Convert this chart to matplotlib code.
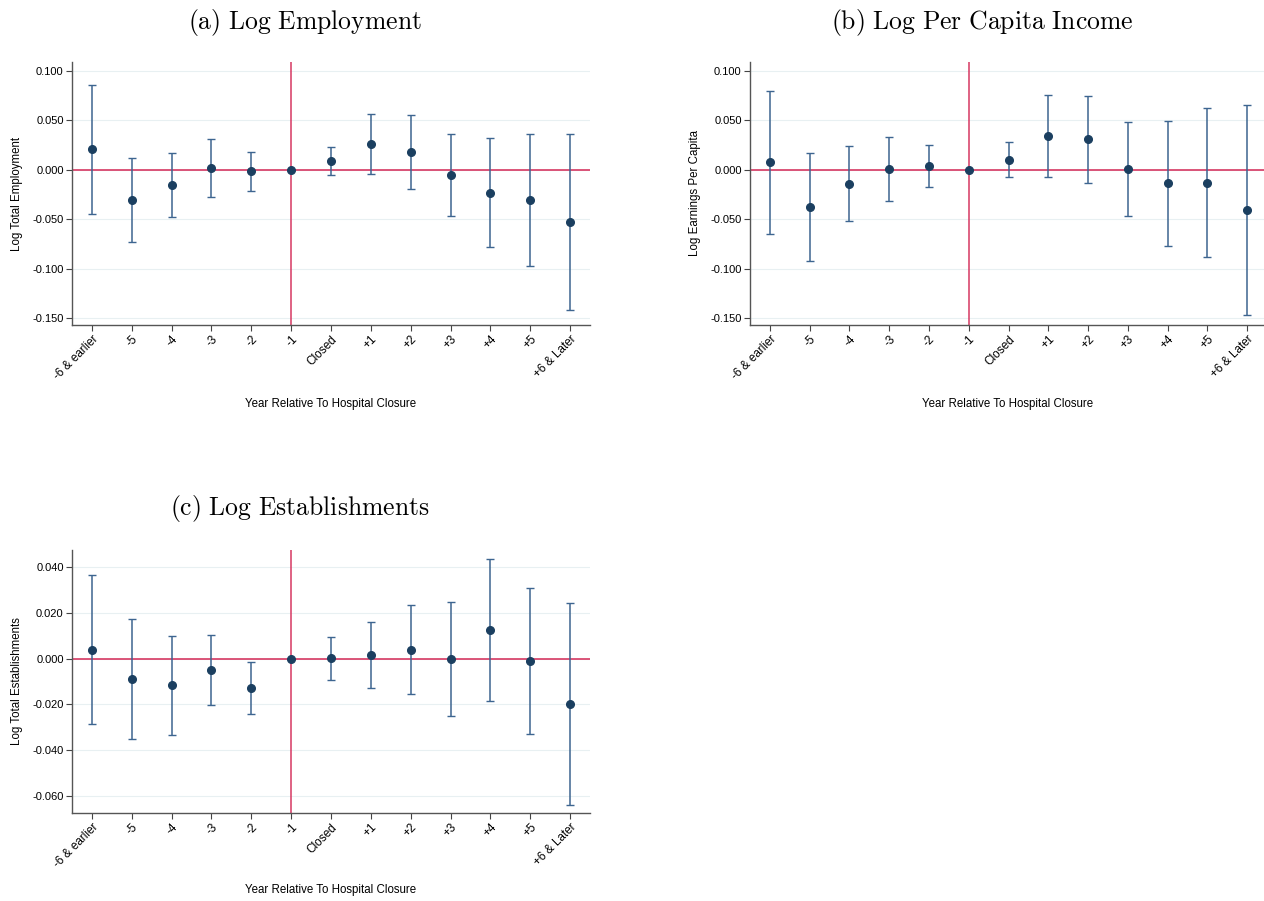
import matplotlib
matplotlib.use("Agg")
import matplotlib.pyplot as plt
import numpy as np

plt.rcParams['font.family'] = ['Liberation Sans', 'DejaVu Sans']
plt.rcParams['mathtext.fontset'] = 'cm'

labels = ['-6 & earlier', '-5', '-4', '-3', '-2', '-1', 'Closed',
          '+1', '+2', '+3', '+4', '+5', '+6 & Later']

# (a) log employment
emp_est = [0.0209, -0.0307, -0.0155, 0.0017, -0.0017, 0.0, 0.0091,
           0.0256, 0.0179, -0.0054, -0.0233, -0.0307, -0.0532]
emp_hi = [0.0862, 0.0115, 0.0169, 0.0313, 0.0182, 0.0, 0.0233,
          0.0563, 0.0556, 0.0357, 0.0324, 0.0361, 0.0361]
emp_lo = [-0.0445, -0.0728, -0.0482, -0.0276, -0.0212, 0.0, -0.0051,
          -0.0047, -0.0195, -0.0465, -0.0785, -0.0971, -0.1422]

# (b) log per capita income
inc_est = [0.0074, -0.0381, -0.0142, 0.0007, 0.0037, 0.0, 0.0101,
           0.0340, 0.0307, 0.0010, -0.0138, -0.0131, -0.0411]
inc_hi = [0.0795, 0.0165, 0.0236, 0.0334, 0.0249, 0.0, 0.0276,
          0.0752, 0.0745, 0.0482, 0.0495, 0.0627, 0.0654]
inc_lo = [-0.0647, -0.0927, -0.0516, -0.0320, -0.0175, 0.0, -0.0078,
          -0.0071, -0.0131, -0.0465, -0.0768, -0.0886, -0.1473]

# (c) log establishments
est_est = [0.0038, -0.0088, -0.0117, -0.0050, -0.0130, 0.0, 0.0001,
           0.0018, 0.0039, -0.0001, 0.0126, -0.0010, -0.0199]
est_hi = [0.0365, 0.0175, 0.0101, 0.0104, -0.0016, 0.0, 0.0096,
          0.0162, 0.0234, 0.0247, 0.0438, 0.0310, 0.0242]
est_lo = [-0.0286, -0.0350, -0.0334, -0.0201, -0.0241, 0.0, -0.0092,
          -0.0130, -0.0153, -0.0251, -0.0187, -0.0331, -0.0641]

W, H = 1264, 901
fig = plt.figure(figsize=(W / 100, H / 100), dpi=100)


def box(l, t, r, b):
    return [l / W, 1 - b / H, (r - l) / W, (b - t) / H]


def panel(rect, est, lo, hi, ylab, yticks, ylim):
    ax = fig.add_axes(rect)
    x = np.arange(len(labels))
    est = np.array(est)
    lo = np.array(lo)
    hi = np.array(hi)
    for t in yticks:
        ax.axhline(t, color='#e8f0f2', lw=0.8, zorder=0)
    ax.axhline(0, color='#d63862', lw=1.2, zorder=1)
    ax.axvline(5, color='#d63862', lw=1.1, zorder=1)
    ax.errorbar(x, est, yerr=[est - lo, hi - est], fmt='none',
                ecolor='#3d6590', elinewidth=1.1, capsize=2.8,
                capthick=1.0, zorder=2)
    ax.plot(x, est, 'o', color='#1b3f60', ms=5.5, zorder=3)
    ax.set_xlim(-0.5, 12.5)
    ax.set_ylim(*ylim)
    ax.set_yticks(yticks)
    ax.set_yticklabels(['%.3f' % t for t in yticks], fontsize=8)
    ax.set_xticks(x)
    ax.set_xticklabels(labels, rotation=45, ha='right',
                       rotation_mode='anchor', fontsize=8.5)
    ax.tick_params(length=4, width=0.8, color='#444444', pad=2)
    for s in ['top', 'right']:
        ax.spines[s].set_visible(False)
    for s in ['left', 'bottom']:
        ax.spines[s].set_color('#555555')
        ax.spines[s].set_linewidth(1.0)
    ax.set_ylabel(ylab, fontsize=8.3, labelpad=7)
    return ax


big = [0.100, 0.050, 0.000, -0.050, -0.100, -0.150]
small = [0.040, 0.020, 0.000, -0.020, -0.040, -0.060]

panel(box(72, 62, 590, 325), emp_est, emp_lo, emp_hi,
      'Log Total Employment', big, (-0.157, 0.109))
panel(box(750, 62, 1267, 325), inc_est, inc_lo, inc_hi,
      'Log Earnings Per Capita', big, (-0.157, 0.109))
panel(box(72, 550, 590, 813), est_est, est_lo, est_hi,
      'Log Total Establishments', small, (-0.0676, 0.0476))

xl = 'Year Relative To Hospital Closure'
fig.text(331 / W, 1 - 404 / H, xl, ha='center', va='center', fontsize=8.3)
fig.text(1008 / W, 1 - 404 / H, xl, ha='center', va='center', fontsize=8.3)
fig.text(331 / W, 1 - 890 / H, xl, ha='center', va='center', fontsize=8.3)

tk = dict(ha='center', va='center', fontsize=18.5)
fig.text(305 / W, 1 - 22 / H, r'$\mathrm{(a)\ Log\ Employment}$', **tk)
fig.text(982 / W, 1 - 22 / H, r'$\mathrm{(b)\ Log\ Per\ Capita\ Income}$', **tk)
fig.text(300 / W, 1 - 508 / H, r'$\mathrm{(c)\ Log\ Establishments}$', **tk)

fig.savefig('out.png', dpi=100)
